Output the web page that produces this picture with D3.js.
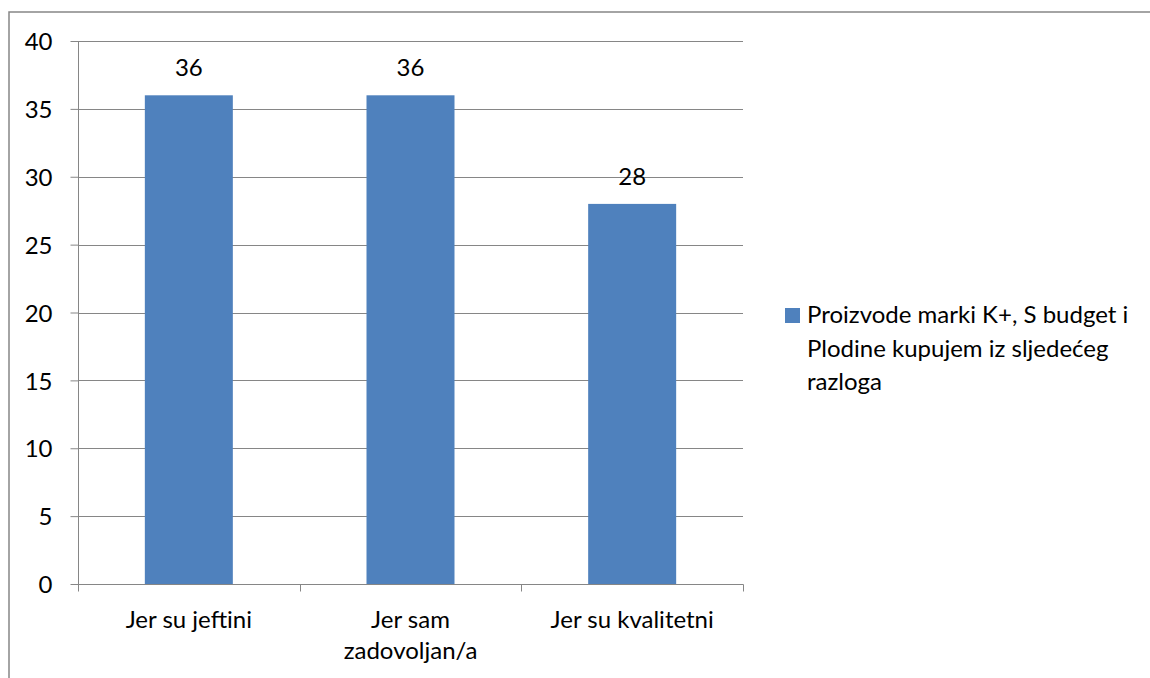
<!DOCTYPE html>
<html><head><meta charset="utf-8">
<script src="https://cdn.jsdelivr.net/npm/d3@7"></script>
<style>body{margin:0;background:#fff}svg{display:block}text{font-family:Lato,"Open Sans",sans-serif;fill:#000}</style>
</head><body><svg id="c" width="1150" height="678"></svg>
<script>
const categories = [["Jer su jeftini"], ["Jer sam", "zadovoljan/a"], ["Jer su kvalitetni"]];
const values = [36, 36, 28];
const yTicks = [0, 5, 10, 15, 20, 25, 30, 35, 40];
const legendLines = ["Proizvode marki K+, S budget i", "Plodine kupujem iz sljedećeg", "razloga"];

const svg = d3.select("#c");
const gray = "#868686", blue = "#4F81BD";
const fs = 24;
svg.append("rect").attr("x", 9).attr("y", 12).attr("width", 1160).attr("height", 700)
  .attr("fill", "none").attr("stroke", gray).attr("stroke-width", 1.5);

const x0 = 78, x1 = 743, yTop = 41, yBot = 584;
const keys = categories.map((d, i) => i);
const x = d3.scaleBand().domain(keys).range([x0, x1]).paddingInner(0).paddingOuter(0);
const y = d3.scaleLinear().domain([0, 40]).range([yBot, yTop]);

// gridlines
svg.append("g").selectAll("line").data(yTicks.filter(t => t > 0)).join("line")
  .attr("x1", x0).attr("x2", x1).attr("y1", d => Math.round(y(d)) + 0.5).attr("y2", d => Math.round(y(d)) + 0.5)
  .attr("stroke", gray).attr("stroke-width", 1);

// bars
const bw = 88;
svg.append("g").selectAll("rect").data(values).join("rect")
  .attr("x", (d, i) => x(i) + x.bandwidth() / 2 - bw / 2)
  .attr("width", bw)
  .attr("y", d => y(d)).attr("height", d => yBot - y(d))
  .attr("fill", blue);

// y axis
const ya = svg.append("g").attr("transform", `translate(${x0 + 0.5},0)`)
  .call(d3.axisLeft(y).tickValues(yTicks).tickSize(8).tickPadding(18).tickFormat(d3.format("d")));
ya.select(".domain").attr("stroke", gray).attr("d", `M0,${yTop}V${yBot}`);
ya.selectAll(".tick line").attr("stroke", gray);
ya.selectAll(".tick text").attr("font-size", fs).attr("font-family", "Lato").attr("fill", "#000").attr("dy", "0.36em");

// x axis
const xa = svg.append("g").attr("transform", `translate(0,${yBot + 0.5})`);
xa.append("line").attr("x1", x0).attr("x2", x1 + 0.5).attr("stroke", gray);
const tickXs = keys.map(k => x(k)).concat([x1]);
xa.selectAll("line.t").data(tickXs).join("line").attr("class", "t")
  .attr("x1", d => Math.round(d) + 0.5).attr("x2", d => Math.round(d) + 0.5).attr("y1", 0).attr("y2", 7).attr("stroke", gray);
categories.forEach((lines, i) => {
  const t = xa.append("text").attr("text-anchor", "middle").attr("font-size", fs)
    .attr("x", x(i) + x.bandwidth() / 2).attr("y", 43);
  lines.forEach((l, j) => t.append("tspan").attr("x", x(i) + x.bandwidth() / 2).attr("dy", j ? 31 : 0).text(l));
});

// data labels
svg.append("g").selectAll("text").data(values).join("text")
  .attr("text-anchor", "middle").attr("font-size", fs)
  .attr("x", (d, i) => x(i) + x.bandwidth() / 2).attr("y", d => y(d) - 19)
  .text(d => d);

// legend
svg.append("rect").attr("x", 785).attr("y", 308).attr("width", 15).attr("height", 15).attr("fill", blue);
const lt = svg.append("text").attr("font-size", fs).attr("x", 807).attr("y", 323);
const lys = [0, 34, 33];
legendLines.forEach((l, j) => lt.append("tspan").attr("x", 807).attr("dy", lys[j]).text(l));
</script></body></html>
